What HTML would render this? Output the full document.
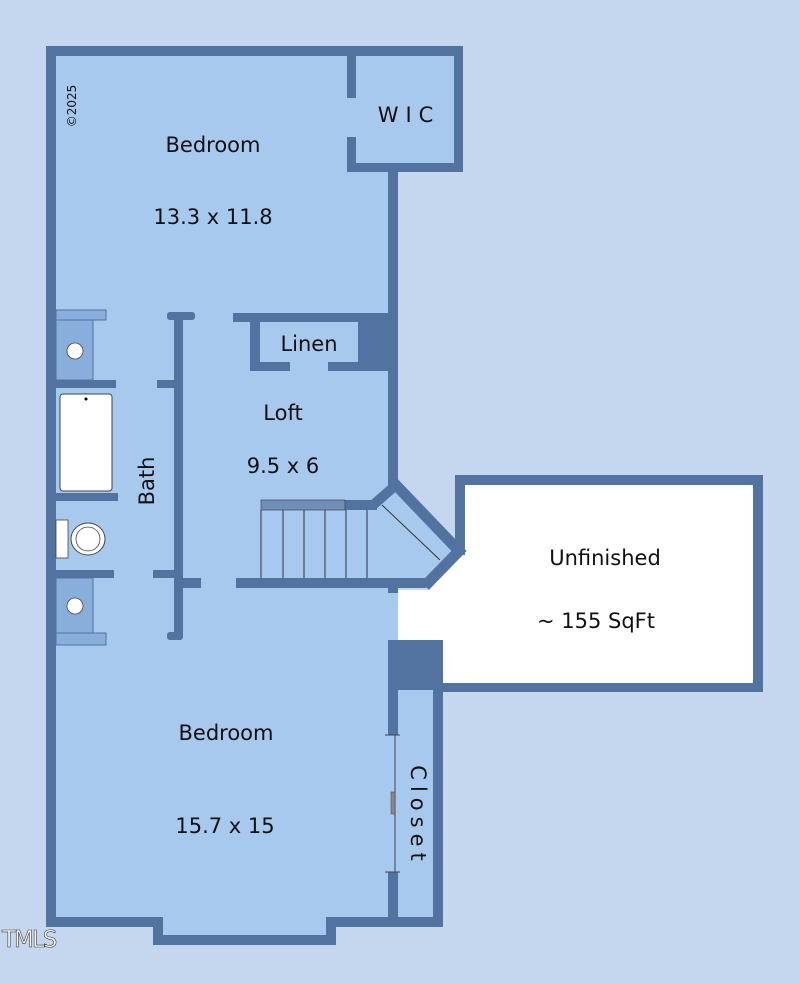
<!DOCTYPE html>
<html><head><style>body{margin:0;background:#c4d7ef}svg{display:block}text{font-family:"DejaVu Sans","Liberation Sans",sans-serif;fill:#111}</style></head><body>
<svg width="800" height="983" viewBox="0 0 800 983">
<rect width="800" height="983" fill="#c4d7ef"/>
<!-- floor fill -->
<polygon points="51,51 458,51 458,168 393,168 393,483 458,550 425,588 398,588 398,690 438,690 438,922 331,922 331,940 158,940 158,922 51,922" fill="#a7c9ee"/>
<!-- unfinished white -->
<polygon points="460,480 758,480 758,688 443,688 443,640 398,640 398,590 428,590 462,553 460,480" fill="#fff"/>
<g fill="#52729f">
<rect x="46" y="46" width="10" height="880"/>
<rect x="46" y="46" width="417" height="10"/>
<rect x="454" y="46" width="9" height="126"/>
<rect x="347" y="163" width="116" height="9"/>
<rect x="347" y="46" width="9" height="52"/>
<rect x="347" y="137" width="9" height="35"/>
<rect x="388" y="163" width="10" height="322"/>
<rect x="46" y="917" width="117" height="10"/>
<rect x="153" y="917" width="10" height="28"/>
<rect x="153" y="935" width="183" height="10"/>
<rect x="326" y="917" width="10" height="28"/>
<rect x="326" y="917" width="117" height="10"/>
<rect x="433" y="685" width="10" height="242"/>
<rect x="388" y="640" width="55" height="50"/>
<rect x="388" y="640" width="10" height="95"/>
<rect x="388" y="872" width="10" height="55"/>
<rect x="388" y="585" width="10" height="8"/>
<rect x="455" y="475" width="308" height="10"/>
<rect x="753" y="475" width="10" height="217"/>
<rect x="443" y="683" width="320" height="9"/>
<rect x="455" y="475" width="10" height="80"/>
<rect x="233" y="313" width="165" height="9"/>
<rect x="250" y="313" width="10" height="58"/>
<rect x="250" y="362" width="40" height="9"/>
<rect x="328" y="362" width="70" height="9"/>
<rect x="358" y="313" width="40" height="58"/>
<rect x="174" y="315" width="9" height="323"/>
<rect x="167" y="312" width="28" height="8" rx="3"/>
<rect x="167" y="632" width="16" height="8" rx="3"/>
<rect x="157" y="380" width="20" height="8"/>
<rect x="153" y="570" width="22" height="8"/>
<rect x="174" y="578" width="27" height="10"/>
<rect x="236" y="578" width="190" height="10"/>
<rect x="345" y="500" width="32" height="10"/>
<rect x="56" y="380" width="60" height="8"/>
<rect x="56" y="493" width="62" height="8"/>
<rect x="56" y="570" width="58" height="8"/>
</g>
<!-- angled stair walls -->
<polyline points="393,482 459,551 425,586" fill="none" stroke="#52729f" stroke-width="11" stroke-linejoin="miter"/>
<line x1="396" y1="485" x2="372" y2="506" stroke="#52729f" stroke-width="10"/>
<line x1="382" y1="505" x2="440" y2="560" stroke="#333" stroke-width="1"/>
<!-- stairs -->
<rect x="261" y="500" width="84" height="10" fill="#6f8fb8" stroke="#445" stroke-width="0.7"/>
<g stroke="#333" stroke-width="1"><line x1="261" y1="510" x2="261" y2="578"/><line x1="283" y1="510" x2="283" y2="578"/><line x1="304" y1="510" x2="304" y2="578"/><line x1="325" y1="510" x2="325" y2="578"/><line x1="346" y1="510" x2="346" y2="578"/><line x1="367" y1="510" x2="367" y2="578"/></g>
<!-- sinks -->
<rect x="56" y="310" width="50" height="10" fill="#8aaedb" stroke="#52729f"/>
<rect x="56" y="320" width="37" height="60" fill="#8aaedb" stroke="#52729f"/>
<circle cx="75" cy="351" r="8" fill="#fff" stroke="#444" stroke-width="0.8"/>
<rect x="56" y="578" width="37" height="55" fill="#8aaedb" stroke="#52729f"/>
<rect x="56" y="633" width="50" height="12" fill="#8aaedb" stroke="#52729f"/>
<circle cx="75" cy="606" r="8" fill="#fff" stroke="#444" stroke-width="0.8"/>
<rect x="60" y="394" width="52" height="97" rx="3" fill="#fff" stroke="#444"/>
<circle cx="86" cy="399" r="1.5" fill="#000"/>
<rect x="56" y="520" width="12" height="38" fill="#fff" stroke="#444" stroke-width="0.8"/>
<ellipse cx="88" cy="539" rx="17" ry="16" fill="#fff" stroke="#444"/>
<ellipse cx="88" cy="539" rx="12" ry="12" fill="#fff" stroke="#444" stroke-width="0.8"/>
<line x1="395" y1="735" x2="395" y2="872" stroke="#444" stroke-width="1"/>
<line x1="385" y1="735" x2="400" y2="735" stroke="#444"/>
<line x1="385" y1="872" x2="400" y2="872" stroke="#444"/>
<rect x="391" y="792" width="4" height="22" fill="#888" stroke="#444" stroke-width="0.5"/>
<!-- text -->
<g font-size="21">
<text x="213" y="152" text-anchor="middle">Bedroom</text>
<text x="213" y="224" text-anchor="middle">13.3 x 11.8</text>
<text x="409" y="122" text-anchor="middle" letter-spacing="7">WIC</text>
<text x="309" y="351" text-anchor="middle">Linen</text>
<text x="283" y="420" text-anchor="middle">Loft</text>
<text x="283" y="473" text-anchor="middle">9.5 x 6</text>
<text transform="translate(154,481) rotate(-90)" text-anchor="middle">Bath</text>
<text x="605" y="565" text-anchor="middle">Unfinished</text>
<text x="596" y="628" text-anchor="middle">~ 155 SqFt</text>
<text x="226" y="740" text-anchor="middle">Bedroom</text>
<text x="225" y="833" text-anchor="middle">15.7 x 15</text>
<text transform="translate(411,816) rotate(90)" text-anchor="middle" letter-spacing="6">Closet</text>
</g>
<text transform="translate(76,106) rotate(-90)" font-size="12" text-anchor="middle">©2025</text>
<text x="2" y="947" font-size="23" fill="#fff" stroke="#333" stroke-width="0.6" style="fill:#fff;letter-spacing:-2px">TMLS</text>
</svg>
</body></html>
